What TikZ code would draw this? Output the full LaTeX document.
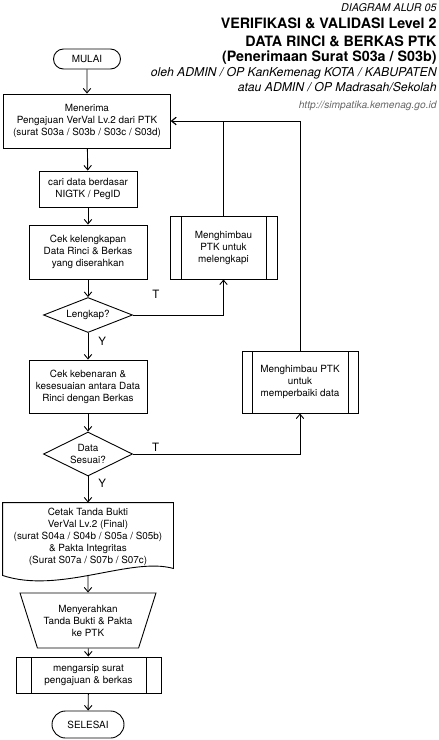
\documentclass[tikz,border=0pt]{standalone}
\usepackage{fontspec}
\setmainfont{TeX Gyre Heros}
\usetikzlibrary{arrows.meta,shapes.geometric,shapes.misc}

\tikzset{
    teks/.style={font=\fontsize{9.9}{12}\selectfont, align=center, inner sep=0pt},
    proses/.style={teks, draw},
    terminal/.style={teks, draw, rounded rectangle},
    keputusan/.style={teks, draw, diamond, aspect=2.3},
    subproses/.style={teks, draw, path picture={
        \draw ([xshift=#1]path picture bounding box.north west) -- ([xshift=#1]path picture bounding box.south west)
              ([xshift=-#1]path picture bounding box.north east) -- ([xshift=-#1]path picture bounding box.south east);}},
    subproses/.default=10pt,
    label/.style={font=\fontsize{11.5}{12}\selectfont, inner sep=0pt},
    kepala/.style={anchor=east, inner sep=0pt}
}

\begin{document}
\begin{tikzpicture}[x=1pt, y=-1pt, line width=0.9pt, >={Straight Barb[length=4.5pt,width=7.5pt]}]
            \useasboundingbox (0,0) rectangle (439,740);

            \node[kepala, font=\fontsize{10.7}{12}\selectfont\itshape] (alur) at (437,8) {DIAGRAM ALUR 05};
            \node[kepala, font=\fontsize{14.3}{17}\selectfont\bfseries] (judul1) at (437,23) {VERIFIKASI \& VALIDASI Level 2};
            \node[kepala, font=\fontsize{14.3}{17}\selectfont\bfseries] (judul2) at (437,41) {DATA RINCI \& BERKAS PTK};
            \node[kepala, font=\fontsize{14.3}{17}\selectfont\bfseries] (judul3) at (437,58) {(Penerimaan Surat S03a / S03b)};
            \node[kepala, font=\fontsize{12.2}{14}\selectfont\itshape] (oleh) at (437,73) {oleh ADMIN / OP KanKemenag KOTA / KABUPATEN};
            \node[kepala, font=\fontsize{12.2}{14}\selectfont\itshape] (atau) at (437,87) {atau ADMIN / OP Madrasah/Sekolah};
            \node[kepala, font=\fontsize{10.2}{12}\selectfont\itshape, text=black!60] (situs) at (437,106) {http://simpatika.kemenag.go.id};

            \node[terminal, minimum width=67, minimum height=20] (mulai) at (87,59) {MULAI};
            \node[proses, minimum width=167, minimum height=54] (terima) at (87,121) {Menerima\\Pengajuan VerVal Lv.2 dari PTK\\(surat S03a / S03b / S03c / S03d)};
            \node[proses, minimum width=98, minimum height=36] (cari) at (88,189) {cari data berdasar\\NIGTK / PegID};
            \node[proses, minimum width=118, minimum height=54] (cekleng) at (88,252) {Cek kelengkapan\\Data Rinci \& Berkas\\yang diserahkan};
            \node[keputusan, minimum width=89, minimum height=35] (lengkap) at (88,315) {Lengkap?};
            \node[subproses=11pt, minimum width=107, minimum height=63] (himbau1) at (223.5,247.5) {Menghimbau\\PTK untuk\\melengkapi};
            \node[proses, minimum width=118, minimum height=53] (cekbenar) at (88,386.5) {Cek kebenaran \&\\kesesuaian antara Data\\Rinci dengan Berkas};
            \node[keputusan, minimum width=89, minimum height=44] (sesuai) at (88,454) {Data\\Sesuai?};
            \node[subproses, minimum width=116, minimum height=62] (himbau2) at (300,382) {Menghimbau PTK\\untuk\\memperbaiki data};
            \node[teks, minimum width=170, minimum height=68] (cetak) at (88,537) {Cetak Tanda Bukti\\VerVal Lv.2 (Final)\\(surat S04a / S04b / S05a / S05b)\\\& Pakta Integritas\\(Surat S07a / S07b / S07c)};
            \node[teks, draw, trapezium, shape border rotate=180, trapezium angle=64, trapezium stretches=true,
                  minimum width=136, minimum height=55] (serah) at (88,620.5) {Menyerahkan\\Tanda Bukti \& Pakta\\ke PTK};
            \node[subproses=15pt, minimum width=145, minimum height=36] (arsip) at (88.5,675) {mengarsip surat\\pengajuan \& berkas};
            \node[terminal, minimum width=72, minimum height=27] (selesai) at (88,724.5) {SELESAI};

            \draw (cetak.north west) -- (cetak.north east) -- ([yshift=3pt]cetak.south east)
                .. controls +(-43,-12) and +(57,19) .. ([yshift=-4pt]cetak.south west) -- cycle;

            \foreach \a/\b in {mulai/terima, terima/cari, cari/cekleng, cekleng/lengkap, cekbenar/sesuai, serah/arsip, arsip/selesai} {
                \draw[->] (\a) -- (\b);
            }
            \draw[->] (lengkap) -- node[label, pos=0.3, right=10pt] {Y} (cekbenar);
            \draw[->] (sesuai) -- node[label, pos=0.28, right=10pt] {Y} (cetak);
            \draw[->] (lengkap.east) -| node[label, pos=0.126, above=16pt] {T} (himbau1.south);
            \draw[->] (sesuai.east) -| node[label, pos=0.068, above=2pt] {T} (himbau2.south);
            \draw[->] (himbau1.north) |- (terima.east);
            \draw[->] (himbau2.north) |- (terima.east);
            \draw[->] ([yshift=-4pt]cetak.south) -- (serah);
        \end{tikzpicture}
\end{document}
